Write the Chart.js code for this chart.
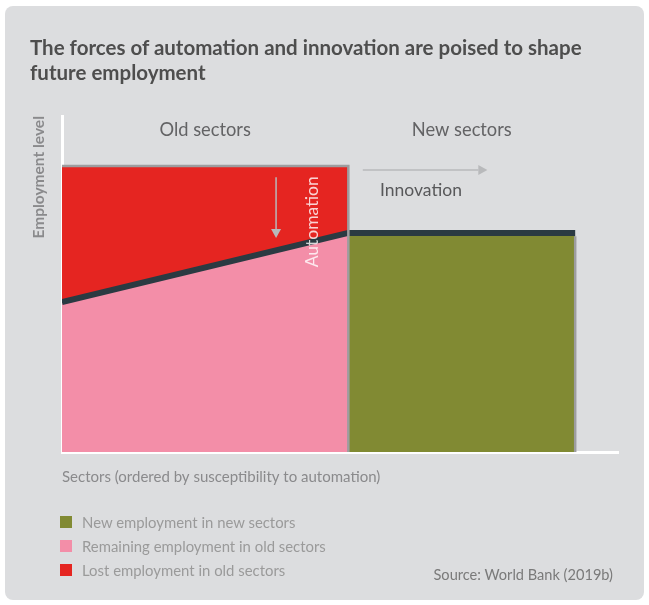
<!DOCTYPE html>
<html>
<head>
<meta charset="utf-8">
<script src="https://cdn.jsdelivr.net/npm/chart.js@4/dist/chart.umd.min.js"></script>
<style>
  html, body { margin: 0; padding: 0; background: #ffffff; width: 649px; height: 605px; overflow: hidden; }
  #card { position: absolute; left: 5px; top: 6px; width: 639px; height: 594px; background: #dcdddf; border-radius: 8px; }
  #chart { position: absolute; left: 0; top: 0; }
  #title { position: absolute; left: 30px; top: 35px; font-family: Lato, sans-serif; font-weight: 700; font-size: 20.5px; line-height: 25px; color: #4e4e4e; }
  #legend { position: absolute; left: 60px; top: 510px; font-family: Lato, sans-serif; font-size: 14.9px; color: #9a9a9a; }
  .item { display: flex; align-items: center; height: 24px; }
  .sw { width: 12px; height: 12px; margin-right: 10px; }
  #source { position: absolute; right: 36px; top: 566px; font-family: Lato, sans-serif; font-size: 14.6px; color: #7a7a7a; }
</style>
</head>
<body>
<div id="card"></div>
<canvas id="chart" width="649" height="605"></canvas>
<div id="title">The forces of automation and innovation are poised to shape<br>future employment</div>
<div id="legend"></div>
<div id="source">Source: World Bank (2019b)</div>
<script>
// ---- data ----
const sectorEdges = [0, 51.5, 92.3];            // cumulative sector share: old sectors, then new sectors
const oldEmploymentBefore = [85.1, 85.1];        // old sectors, employment before automation
const oldEmploymentAfter = [44.6, 65.2];         // remaining employment in old sectors
const newEmployment = [65.2, 65.2];              // employment in new sectors
const seriesNames = ['New employment in new sectors', 'Remaining employment in old sectors', 'Lost employment in old sectors'];
const groupLabels = ['Old sectors', 'New sectors'];
const xAxisTitle = 'Sectors (ordered by susceptibility to automation)';
const yAxisTitle = 'Employment level';

const COLORS = { green: '#818a33', pink: '#f38ea8', red: '#e52521', dark: '#2b3a42', frame: '#9d9d9f' };

const pts = (xs, ys) => xs.map((x, i) => ({ x, y: ys[i] }));
const oldX = [sectorEdges[0], sectorEdges[1]];
const newX = [sectorEdges[1], sectorEdges[2]];

// annotation placement (data units)
const annot = {
  downArrow: { x: 38.5, y1: 81.8, y2: 63.7 },
  rightArrow: { y: 83.9, x1: 54.1, x2: 76.5 },
  automation: { x: 45.0, y: 68.5 },
  innovation: { x: 57.2, y: 78.0 },
  groupY: 95.8
};

const annotPlugin = {
  id: 'annot',
  afterDatasetsDraw(chart) {
    const { ctx, scales: { x, y } } = chart;
    ctx.save();
    // group labels
    ctx.fillStyle = '#636365';
    ctx.font = '18.3px Lato, sans-serif';
    ctx.textAlign = 'center';
    ctx.textBaseline = 'middle';
    ctx.fillText(groupLabels[0], x.getPixelForValue((sectorEdges[0] + sectorEdges[1]) / 2), y.getPixelForValue(annot.groupY));
    ctx.fillText(groupLabels[1], x.getPixelForValue((sectorEdges[1] + sectorEdges[2]) / 2), y.getPixelForValue(annot.groupY));
    // Innovation
    ctx.fillStyle = '#58585a';
    ctx.font = '17.5px Lato, sans-serif';
    ctx.textAlign = 'left';
    ctx.fillText('Innovation', x.getPixelForValue(annot.innovation.x), y.getPixelForValue(annot.innovation.y));
    // Automation (rotated, white)
    ctx.save();
    ctx.translate(x.getPixelForValue(annot.automation.x), y.getPixelForValue(annot.automation.y));
    ctx.rotate(-Math.PI / 2);
    ctx.textAlign = 'center';
    ctx.fillStyle = 'rgba(255,255,255,0.8)';
    ctx.font = '17.5px Lato, sans-serif';
    ctx.fillText('Automation', 0, 0);
    ctx.restore();
    // arrows
    ctx.strokeStyle = '#b8b9bb';
    ctx.fillStyle = '#b8b9bb';
    ctx.lineWidth = 1.5;
    const dx = x.getPixelForValue(annot.downArrow.x);
    const dy1 = y.getPixelForValue(annot.downArrow.y1);
    const dy2 = y.getPixelForValue(annot.downArrow.y2);
    ctx.beginPath(); ctx.moveTo(dx, dy1); ctx.lineTo(dx, dy2 - 9); ctx.stroke();
    ctx.beginPath(); ctx.moveTo(dx - 5, dy2 - 9); ctx.lineTo(dx + 5, dy2 - 9); ctx.lineTo(dx, dy2); ctx.closePath(); ctx.fill();
    const ry = y.getPixelForValue(annot.rightArrow.y);
    const rx1 = x.getPixelForValue(annot.rightArrow.x1);
    const rx2 = x.getPixelForValue(annot.rightArrow.x2);
    ctx.beginPath(); ctx.moveTo(rx1, ry); ctx.lineTo(rx2 - 9, ry); ctx.stroke();
    ctx.beginPath(); ctx.moveTo(rx2 - 9, ry - 5); ctx.lineTo(rx2 - 9, ry + 5); ctx.lineTo(rx2, ry); ctx.closePath(); ctx.fill();
    ctx.restore();
  }
};

const chart = new Chart(document.getElementById('chart'), {
  type: 'line',
  data: {
    datasets: [
      { // 0 remaining employment in old sectors (pink) with dark boundary
        label: seriesNames[1], data: pts(oldX, oldEmploymentAfter),
        backgroundColor: COLORS.pink, borderColor: COLORS.dark, borderWidth: 6,
        fill: 'origin', pointRadius: 0, tension: 0, order: 2
      },
      { // 1 lost employment (red) between before-level and remaining
        label: seriesNames[2], data: pts(oldX, oldEmploymentBefore),
        backgroundColor: COLORS.red, borderColor: 'rgba(0,0,0,0)', borderWidth: 0,
        fill: 0, pointRadius: 0, tension: 0, order: 3
      },
      { // 2 new employment (green)
        label: seriesNames[0], data: pts(newX, newEmployment),
        backgroundColor: COLORS.green, borderColor: COLORS.dark, borderWidth: 6,
        fill: 'origin', pointRadius: 0, tension: 0, order: 2
      },
      { // 3 frame of old sectors
        label: 'frame-old', data: [{ x: oldX[0], y: oldEmploymentBefore[0] }, { x: oldX[1], y: oldEmploymentBefore[1] }, { x: oldX[1], y: 0 }],
        borderColor: COLORS.frame, borderWidth: 2.5, fill: false, pointRadius: 0, tension: 0, order: 1
      },
      { // 4 frame of new sectors
        label: 'frame-new', data: [{ x: newX[1], y: newEmployment[1] - 1 }, { x: newX[1], y: 0 }],
        borderColor: COLORS.frame, borderWidth: 2.5, fill: false, pointRadius: 0, tension: 0, order: 1
      }
    ]
  },
  options: {
    responsive: false,
    animation: false,
    events: [],
    layout: { padding: { left: 29, top: 116, right: 31, bottom: 113 } },
    plugins: { legend: { display: false }, tooltip: { enabled: false }, title: { display: false } },
    scales: {
      x: {
        type: 'linear', min: 0, max: 100,
        grid: { display: false },
        border: { display: true, color: '#ffffff', width: 3 },
        ticks: { display: false },
        title: { display: true, text: xAxisTitle, align: 'start', color: '#8a8a8c',
                 font: { family: 'Lato, sans-serif', size: 15 }, padding: { top: 0, bottom: 6 } },
        afterFit(s) { s.height = 40; }
      },
      y: {
        type: 'linear', min: 0, max: 100,
        grid: { display: false },
        border: { display: true, color: '#ffffff', width: 3 },
        ticks: { display: false },
        title: { display: true, text: yAxisTitle, align: 'end', color: '#8a8a8c',
                 font: { family: 'Lato, sans-serif', size: 15.5, weight: 'bold' }, padding: { top: 1, bottom: 0 } },
        afterFit(s) { s.width = 33; }
      }
    }
  },
  plugins: [annotPlugin]
});

// HTML legend built from the dataset colours
const legendEl = document.getElementById('legend');
[[seriesNames[0], COLORS.green], [seriesNames[1], COLORS.pink], [seriesNames[2], COLORS.red]].forEach(([name, col]) => {
  const row = document.createElement('div'); row.className = 'item';
  const sw = document.createElement('div'); sw.className = 'sw'; sw.style.background = col;
  const t = document.createElement('span'); t.textContent = name;
  row.appendChild(sw); row.appendChild(t); legendEl.appendChild(row);
});
</script>
</body>
</html>
